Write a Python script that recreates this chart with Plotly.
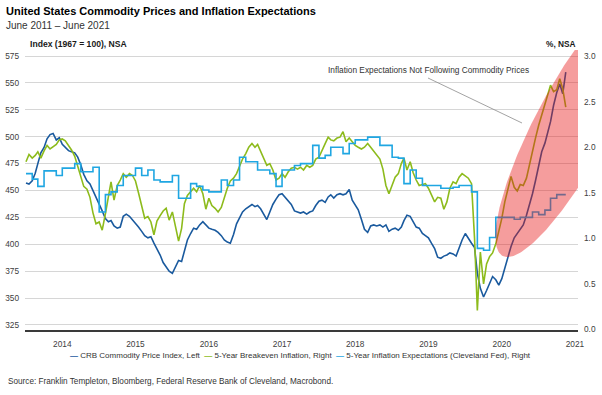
import numpy as np
import pandas as pd
import plotly.graph_objects as go

# ---------------- data ----------------
months = pd.date_range("2014-01-01", "2021-05-01", freq="MS")
semi_dates = [d.strftime("%Y-%m-") + day for d in months for day in ("01", "16")]
cleveland_dates = [d.strftime("%Y-%m-01") for d in months] + ["2021-05-16"]

# CRB Commodity Price Index (1967 = 100), left axis, semi-monthly
crb = [
    457, 456, 459, 466, 475, 485, 490, 498, 502, 503, 497, 499, 493, 490, 487, 486, 485, 481, 474, 465, 459, 456, 450, 445,
    438, 431, 424, 421, 422, 417, 415, 416, 426, 428, 426, 423, 420, 416, 412, 408, 406, 407, 401, 396, 390, 383, 379, 375,
    373, 379, 385, 384, 393, 404, 410, 415, 414, 418, 421, 418, 415, 414, 413, 411, 408, 404, 402, 401, 409, 419, 425, 430,
    433, 435, 437, 435, 436, 433, 428, 423, 430, 437, 442, 446, 447, 444, 441, 437, 431, 430, 429, 430, 428, 430, 431, 436,
    440, 441, 439, 444, 446, 443, 446, 447, 446, 447, 451, 441, 437, 432, 423, 414, 411, 417, 418, 417, 418, 416, 418, 412,
    414, 415, 413, 416, 422, 427, 426, 421, 416, 415, 410, 408, 406, 401, 396, 388, 387, 389, 390, 392, 391, 389, 397, 404,
    410, 405, 401, 397, 373, 359, 351, 357, 364, 370, 367, 362, 368, 378, 389, 398, 406, 410, 414, 418, 427, 436, 447, 459,
    472, 486, 494, 505, 514, 529, 541, 549, 540, 560,
]

# 5-Year Breakeven Inflation (%), right axis, semi-monthly
breakeven = [
    1.84, 1.92, 1.88, 1.91, 1.95, 1.88, 1.96, 2.02, 1.98, 2.00, 2.03, 2.08, 2.09, 2.07, 2.02, 1.97, 1.90, 1.79, 1.66, 1.57, 1.54, 1.45, 1.28, 1.16,
    1.18, 1.09, 1.27, 1.45, 1.62, 1.42, 1.58, 1.64, 1.71, 1.67, 1.71, 1.69, 1.63, 1.50, 1.36, 1.22, 1.24, 1.18, 1.04, 1.19, 1.25, 1.30, 1.33, 1.20,
    1.29, 1.14, 0.97, 1.11, 1.38, 1.47, 1.51, 1.55, 1.51, 1.58, 1.49, 1.32, 1.44, 1.36, 1.33, 1.29, 1.34, 1.45, 1.55, 1.63, 1.66, 1.71, 1.80, 1.87,
    1.93, 2.00, 2.04, 2.00, 2.03, 1.96, 1.88, 1.80, 1.82, 1.75, 1.64, 1.66, 1.71, 1.67, 1.73, 1.77, 1.78, 1.76, 1.78, 1.75, 1.80, 1.78, 1.80, 1.87,
    1.89, 1.97, 2.04, 2.11, 2.08, 2.07, 2.10, 2.11, 2.17, 2.06, 2.10, 2.06, 2.02, 2.00, 1.98, 2.00, 2.04, 2.00, 1.96, 1.91, 1.87, 1.76, 1.58, 1.49,
    1.58, 1.67, 1.71, 1.82, 1.88, 1.75, 1.84, 1.72, 1.64, 1.58, 1.59, 1.60, 1.55, 1.47, 1.40, 1.45, 1.44, 1.32, 1.40, 1.55, 1.62, 1.60, 1.67, 1.71,
    1.68, 1.66, 1.60, 1.00, 0.21, 0.85, 0.50, 0.72, 0.80, 0.84, 0.94, 1.08, 1.22, 1.40, 1.55, 1.68, 1.56, 1.52, 1.59, 1.58, 1.66, 1.82, 1.97, 2.10,
    2.24, 2.35, 2.47, 2.58, 2.68, 2.61, 2.63, 2.75, 2.64, 2.44,
]

# 5-Year Inflation Expectations (Cleveland Fed, %), right axis, monthly
cleveland = [
    1.71, 1.65, 1.57, 1.74, 1.74, 1.69, 1.77, 1.77, 1.82, 1.73, 1.73, 1.78,
    1.29, 1.48, 1.51, 1.58, 1.69, 1.69, 1.77, 1.69, 1.75, 1.64, 1.62, 1.62,
    1.69, 1.44, 1.44, 1.60, 1.57, 1.53, 1.51, 1.51, 1.64, 1.58, 1.64, 1.89,
    1.84, 1.84, 1.75, 1.75, 1.71, 1.57, 1.75, 1.75, 1.80, 1.82, 1.82, 2.02,
    1.88, 1.91, 2.00, 2.00, 1.93, 2.04, 2.08, 2.08, 2.11, 2.11, 2.02, 2.02,
    1.89, 1.88, 1.60, 1.75, 1.66, 1.58, 1.58, 1.58, 1.55, 1.55, 1.56, 1.58,
    1.58, 1.51, 0.89, 0.87, 1.01, 1.23, 1.23, 1.23, 1.21, 1.23, 1.23, 1.29,
    1.26, 1.31, 1.44, 1.48, 1.48, 1.48,
]

years = [2014, 2015, 2016, 2017, 2018, 2019, 2020, 2021]
left_ticks = [325, 350, 375, 400, 425, 450, 475, 500, 525, 550, 575]
right_ticks = [0.0, 0.5, 1.0, 1.5, 2.0, 2.5, 3.0]

names = [
    "CRB Commodity Price Index, Left",
    "5-Year Breakeven Inflation, Right",
    "5-Year Inflation Expectations (Cleveland Fed), Right",
]
colors = ["#1A5A9E", "#8DBB1C", "#1FA6E2"]

# ---------------- geometry ----------------
W, H = 602, 395
ML, MR, MT, MB = 25, 24, 50, 65
PW, PH = W - ML - MR, H - MT - MB
X0, X1 = pd.Timestamp("2013-12-27"), pd.Timestamp("2021-07-16")
Y1 = [320.3, 580.6]
Y2 = [-0.005, 3.066]

FONT = "Liberation Sans, Arial, sans-serif"
SMALL = 8.3


def px_x(px):
    return (px - ML) / PW


def px_y(py):
    return (H - MB - py) / PH


fig = go.Figure()
fig.add_trace(go.Scatter(x=semi_dates, y=crb, name=names[0], mode="lines",
                         line=dict(color=colors[0], width=1.6), yaxis="y"))
fig.add_trace(go.Scatter(x=semi_dates, y=breakeven, name=names[1], mode="lines",
                         line=dict(color=colors[1], width=1.6), yaxis="y2"))
fig.add_trace(go.Scatter(x=cleveland_dates, y=cleveland, name=names[2], mode="lines",
                         line=dict(color=colors[2], width=1.6, shape="hv"), yaxis="y2"))

# translucent highlight ellipse (decoration), drawn on top of the lines
th = np.deg2rad(62)
u = np.array([np.cos(th), -np.sin(th)])
n = np.array([np.sin(th), np.cos(th)])
center = 160 * u + 564 * n
t = np.linspace(0, 2 * np.pi, 241)
pts = center[:, None] + 150 * np.cos(t) * u[:, None] + 37 * np.sin(t) * n[:, None]
ell_x = [X0 + (px - ML) / PW * (X1 - X0) for px in pts[0]]
ell_y = [Y2[1] - (py - MT) / PH * (Y2[1] - Y2[0]) for py in pts[1]]
fig.add_trace(go.Scatter(x=ell_x, y=ell_y, yaxis="y2", mode="lines", fill="toself",
                         fillcolor="rgba(232,22,22,0.42)", line=dict(width=0),
                         hoverinfo="skip", showlegend=False))

tickfont = dict(family=FONT, size=SMALL, color="#404040")
fig.update_layout(
    width=W, height=H,
    margin=dict(l=ML, r=MR, t=MT, b=MB, autoexpand=False),
    paper_bgcolor="white", plot_bgcolor="white",
    showlegend=False,
    xaxis=dict(type="date", range=[X0.strftime("%Y-%m-%d"), X1.strftime("%Y-%m-%d")],
               tickvals=[f"{y}-07-01" for y in years], ticktext=[str(y) for y in years],
               showgrid=False, zeroline=False, showline=True, linecolor="#3A3A3A",
               linewidth=2, ticks="", tickfont=tickfont, ticklabelstandoff=5),
    yaxis=dict(range=Y1, tickvals=left_ticks, showgrid=True, gridcolor="#D6D6D6",
               gridwidth=1.2, zeroline=False, showline=False, ticks="",
               tickfont=tickfont, ticklabelstandoff=5),
    yaxis2=dict(range=Y2, overlaying="y", side="right", tickvals=right_ticks,
                ticktext=[f"{v:.1f}" for v in right_ticks], showgrid=False,
                zeroline=False, showline=False, ticks="", tickfont=tickfont,
                ticklabelstandoff=5),
)

ann = []
ann.append(dict(text="<b>United States Commodity Prices and Inflation Expectations</b>",
                x=px_x(4), y=px_y(11), xanchor="left", yanchor="middle",
                font=dict(family=FONT, size=11, color="#000000")))
ann.append(dict(text="June 2011 \u2013 June 2021", x=px_x(4), y=px_y(25),
                xanchor="left", yanchor="middle",
                font=dict(family=FONT, size=10, color="#333333")))
ann.append(dict(text="<b>Index (1967 = 100), NSA</b>", x=px_x(28), y=px_y(44),
                xanchor="left", yanchor="middle",
                font=dict(family=FONT, size=8.6, color="#1A1A1A")))
ann.append(dict(text="<b>%, NSA</b>", x=px_x(578), y=px_y(44),
                xanchor="right", yanchor="middle",
                font=dict(family=FONT, size=8.3, color="#1A1A1A")))
ann.append(dict(text="Inflation Expectations Not Following Commodity Prices",
                x=px_x(428), y=px_y(70), xanchor="center", yanchor="middle",
                font=dict(family=FONT, size=8.3, color="#333333")))
legend_text = "  ".join(
    f'<span style="color:{c}"><b>\u2014</b></span> {nm}' for nm, c in zip(names, colors)
)
ann.append(dict(text=legend_text, x=px_x(300), y=px_y(355), xanchor="center",
                yanchor="middle", font=dict(family=FONT, size=8.0, color="#333333")))
ann.append(dict(text="Source: Franklin Templeton, Bloomberg, Federal Reserve Bank of Cleveland, Macrobond.",
                x=px_x(6), y=px_y(381), xanchor="left", yanchor="middle",
                font=dict(family=FONT, size=8.2, color="#333333")))
for a in ann:
    a.update(xref="paper", yref="paper", showarrow=False)
fig.update_layout(annotations=ann)

fig.add_shape(type="line", xref="paper", yref="paper",
              x0=px_x(428), y0=px_y(78), x1=px_x(522), y1=px_y(123),
              line=dict(color="#8C8C8C", width=0.8), layer="above")

fig.write_html("out.html", config={"displayModeBar": False},
               post_script="document.body.style.margin='0';document.body.style.padding='0';")
